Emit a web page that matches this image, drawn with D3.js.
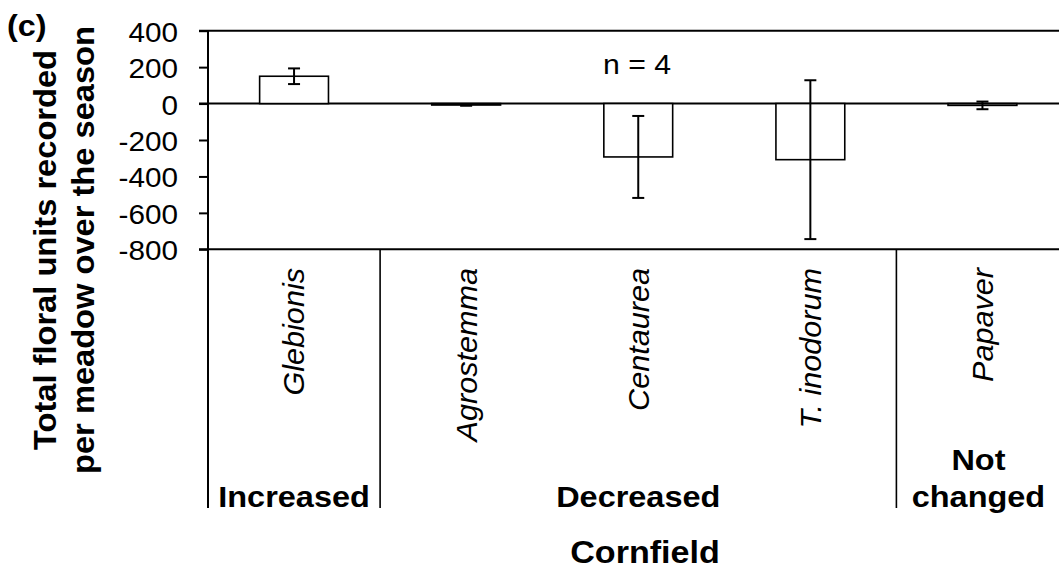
<!DOCTYPE html>
<html>
<head>
<meta charset="utf-8">
<script src="https://cdn.jsdelivr.net/npm/d3@7"></script>
<style>
  html, body { margin: 0; padding: 0; background: #fff; }
  svg { display: block; font-family: "Liberation Sans", Arial, sans-serif; }
</style>
</head>
<body>
<svg id="chart" width="1059" height="570"></svg>
<script>
// Change in total floral units per meadow over the season (cornfield mix), mean ± SE
const categories = ["Glebionis", "Agrostemma", "Centaurea", "T. inodorum", "Papaver"];
const means = [150, -8, -293, -308, -10];
const errors = [43, 4, 225, 436, 21];
const yTicks = [400, 200, 0, -200, -400, -600, -800];
const gridValues = [400, 0, -800];

// response groups spanning the species columns
const groupLabels = [["Increased"], ["Decreased"], ["Not", "changed"]];
const groupStart = [0, 1, 4];
const groupEnd = [1, 4, 5];

const panelLabel = "(c)";
const yTitle = ["Total floral units recorded", "per meadow over the season"];
const xTitle = "Cornfield";
const note = "n = 4";

const svg = d3.select("#chart");

const x = d3.scaleBand().domain(categories).range([208, 1068.5]).padding(0);
const y = d3.scaleLinear().domain([-800, 400]).range([249.3, 30.7]);
const barW = x.bandwidth() * 0.4;
const labelBottom = 508;

// text drawn slightly wide along its reading direction
function place(sel, tx, ty, rot, sx) {
  sel.attr("transform", `translate(${tx},${ty}) rotate(${rot}) scale(${sx},1)`);
}

// horizontal rules: top border, zero line, lower category axis
svg.append("g").selectAll("line").data(gridValues).join("line")
  .attr("x1", 199).attr("x2", 1080)
  .attr("y1", d => y(d)).attr("y2", d => y(d))
  .attr("stroke", "#000").attr("stroke-width", 2);

// y axis ticks and labels
const yAxis = svg.append("g")
  .attr("transform", `translate(${x.range()[0]},0)`)
  .call(d3.axisLeft(y).tickValues(yTicks).tickSize(9).tickSizeOuter(0).tickFormat(d => String(d)));
yAxis.select(".domain").remove();
yAxis.selectAll(".tick line").attr("stroke", "#000").attr("stroke-width", 2);
yAxis.selectAll(".tick text")
  .attr("x", null).attr("dy", null)
  .attr("font-size", 27).attr("fill", "#000")
  .attr("font-family", "'Liberation Sans', Arial, sans-serif")
  .attr("text-anchor", "end")
  .attr("dominant-baseline", "central")
  .attr("transform", "translate(-30,1) scale(1.1,1)");

// y axis line, continued down through the label area
svg.append("line")
  .attr("x1", x.range()[0]).attr("x2", x.range()[0])
  .attr("y1", y(400)).attr("y2", labelBottom)
  .attr("stroke", "#000").attr("stroke-width", 2);

// separators between response groups
svg.append("g").selectAll("line").data(groupEnd.filter(i => i < categories.length)).join("line")
  .attr("x1", i => x(categories[i])).attr("x2", i => x(categories[i]))
  .attr("y1", y(-800)).attr("y2", labelBottom)
  .attr("stroke", "#000").attr("stroke-width", 1.6);

// bars
svg.append("g").selectAll("rect").data(categories).join("rect")
  .attr("x", d => x(d) + (x.bandwidth() - barW) / 2)
  .attr("width", barW)
  .attr("y", (d, i) => y(Math.max(0, means[i])))
  .attr("height", (d, i) => Math.abs(y(means[i]) - y(0)))
  .attr("fill", "#fff").attr("stroke", "#000").attr("stroke-width", 1.6);

// error bars
const eb = svg.append("g").attr("stroke", "#000").attr("stroke-width", 2);
categories.forEach((c, i) => {
  const cx = x(c) + x.bandwidth() / 2;
  const lo = y(means[i] - errors[i]);
  const hi = y(means[i] + errors[i]);
  eb.append("line").attr("x1", cx).attr("x2", cx).attr("y1", hi).attr("y2", lo);
  eb.append("line").attr("x1", cx - 6).attr("x2", cx + 6).attr("y1", hi).attr("y2", hi);
  eb.append("line").attr("x1", cx - 6).attr("x2", cx + 6).attr("y1", lo).attr("y2", lo);
});

// species names, rotated and italic
svg.append("g").selectAll("text").data(categories).join("text")
  .text(d => d)
  .attr("font-size", 30).attr("font-style", "italic")
  .attr("text-anchor", "end").attr("dominant-baseline", "central")
  .each(function (d) {
    place(d3.select(this), x(d) + x.bandwidth() / 2, 268, -90, 1.02);
  });

// group labels
groupLabels.forEach((lines, g) => {
  const cx = (x(categories[groupStart[g]]) + x(categories[groupEnd[g] - 1]) + x.bandwidth()) / 2;
  lines.forEach((t, k) => {
    const ty = 507 - (lines.length - 1 - k) * 37;
    svg.append("text").text(t)
      .attr("font-size", 29).attr("font-weight", "bold").attr("text-anchor", "middle")
      .call(s => place(s, cx - (lines.length > 1 ? 4 : 0), ty, 0, 1.12));
  });
});

// x axis title
svg.append("text").text(xTitle)
  .attr("font-size", 31).attr("font-weight", "bold").attr("text-anchor", "middle")
  .call(s => place(s, 645, 563, 0, 1.1));

// y axis title
yTitle.forEach((t, k) => {
  svg.append("text").text(t)
    .attr("font-size", 32).attr("font-weight", "bold").attr("text-anchor", "middle")
    .call(s => place(s, 56 + k * 38, 250, -90, 1.02));
});

// panel letter
svg.append("text").text(panelLabel)
  .attr("font-size", 30).attr("font-weight", "bold")
  .call(s => place(s, 7, 36, 0, 1.08));

// sample size note
svg.append("text").text(note)
  .attr("font-size", 27).attr("text-anchor", "middle")
  .call(s => place(s, 637, 74, 0, 1.12));
</script>
</body>
</html>
